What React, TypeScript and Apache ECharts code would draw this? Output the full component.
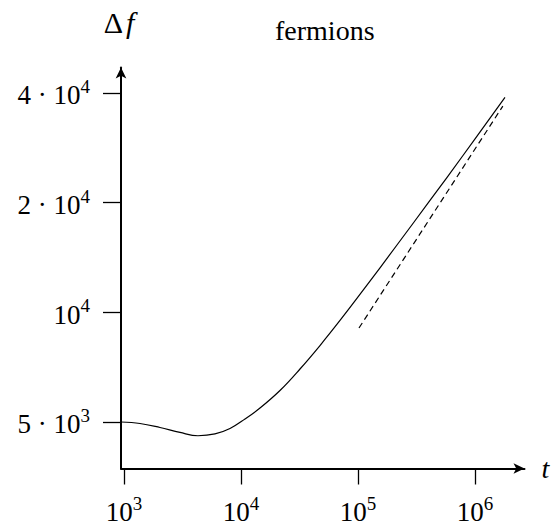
import React, { useEffect, useRef } from 'react';
import * as echarts from 'echarts';

// Solid curve: time t and Δf
const solidT = [943, 1370, 2031, 3010, 4291, 5995, 8054, 10820, 14540, 21540, 31940, 47340, 70200, 110300, 215400, 412500, 789700, 1805000];
const solidV = [5000, 4953, 4828, 4681, 4584, 4636, 4798, 5096, 5461, 6100, 6989, 8107, 9496, 11478, 15300, 20270, 26930, 38900];

// Dashed asymptote
const dashT = [102000, 1730000];
const dashV = [9055, 36800];

// Ticks
const xTickValues = [1e3, 1e4, 1e5, 1e6];
const xTickExponents = ['3', '4', '5', '6'];
const yTickValues = [5000, 10000, 20000, 40000];
const yTickMantissas = ['5 · ', '', '2 · ', '4 · '];
const yTickExponents = ['3', '4', '4', '4'];

const xMin = 943;
const xMax = 2.65e6;
const yMin = 3727;
const yMax = 46960;

export default function App() {
  const ref = useRef<HTMLDivElement>(null);
  useEffect(() => {
    const chart = echarts.init(ref.current!, null, { renderer: 'svg' });
    const font = "'Liberation Serif', 'DejaVu Serif', serif";
    const rich = {
      b: { fontFamily: font, fontSize: 27, lineHeight: 32, color: '#000', verticalAlign: 'bottom' },
      s: { fontFamily: font, fontSize: 19, lineHeight: 18, color: '#000', verticalAlign: 'top' },
    };
    const zip = (a: number[], b: number[]) => a.map((v, i) => [v, b[i]]);
    chart.setOption({
      animation: false,
      backgroundColor: '#fff',
      title: {
        text: 'fermions',
        left: 270,
        top: 11,
        textStyle: { fontFamily: font, fontSize: 28, fontWeight: 'normal', color: '#000' },
      },
      grid: { left: 121, right: 31.5, top: 67.5, bottom: 62.5, containLabel: false },
      xAxis: {
        type: 'log',
        logBase: 10,
        min: xMin,
        max: xMax,
        name: 't',
        nameLocation: 'end',
        nameGap: 17,
        nameTextStyle: { fontFamily: font, fontSize: 28, fontStyle: 'italic', color: '#000' },
        axisLine: {
          show: true,
          onZero: false,
          symbol: ['none', 'arrow'],
          symbolSize: [8, 11],
          lineStyle: { color: '#000', width: 2 },
        },
        axisTick: { show: true, length: 16, customValues: xTickValues, lineStyle: { color: '#000', width: 1.3 } },
        axisLabel: {
          customValues: xTickValues,
          margin: 25,
          formatter: (v: number) => {
            const i = xTickValues.findIndex((x) => Math.abs(x - v) / x < 1e-6);
            return `{b|10}{s|${xTickExponents[i >= 0 ? i : 0]}}`;
          },
          rich,
        },
        splitLine: { show: false },
        minorTick: { show: false },
      },
      yAxis: {
        type: 'log',
        logBase: 10,
        min: yMin,
        max: yMax,
        name: '{d|Δ}{f|f}',
        nameLocation: 'end',
        nameGap: 30,
        nameTextStyle: {
          rich: {
            d: { fontFamily: font, fontSize: 30, color: '#000', padding: [0, 3, 0, 0] },
            f: { fontFamily: font, fontSize: 30, fontStyle: 'italic', color: '#000', padding: [0, 4, 0, 0] },
          },
        },
        axisLine: {
          show: true,
          onZero: false,
          symbol: ['none', 'arrow'],
          symbolSize: [8, 11],
          lineStyle: { color: '#000', width: 2 },
        },
        axisTick: { show: true, length: 18, customValues: yTickValues, lineStyle: { color: '#000', width: 1.3 } },
        axisLabel: {
          customValues: yTickValues,
          margin: 31,
          formatter: (v: number) => {
            const i = yTickValues.findIndex((x) => Math.abs(x - v) / x < 1e-6);
            const k = i >= 0 ? i : 0;
            return `{b|${yTickMantissas[k]}10}{s|${yTickExponents[k]}}`;
          },
          rich,
        },
        splitLine: { show: false },
        minorTick: { show: false },
      },
      series: [
        {
          type: 'line',
          data: zip(solidT, solidV),
          showSymbol: false,
          smooth: 0.4,
          lineStyle: { color: '#000', width: 1.2 },
          silent: true,
        },
        {
          type: 'line',
          data: zip(dashT, dashV),
          showSymbol: false,
          lineStyle: { color: '#000', width: 1.2, type: [6, 4] },
          silent: true,
        },
      ],
    });
    return () => chart.dispose();
  }, []);
  return <div ref={ref} style={{ position: 'fixed', left: 0, top: 0, width: 556, height: 531 }} />;
}
